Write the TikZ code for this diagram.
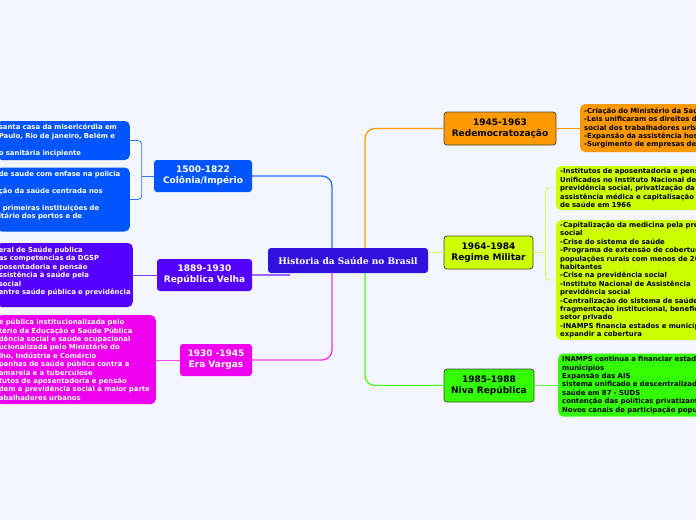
\documentclass[tikz,border=0pt]{standalone}
\usepackage{fontspec}
\usepackage{tikz}
\usetikzlibrary{positioning,calc}
\newfontfamily\mapfont{DejaVu Sans}
\newfontfamily\rootfont{DejaVu Serif}
\definecolor{MapBack}{RGB}{243,246,254}
\definecolor{RootBlue}{RGB}{51,17,221}
\definecolor{ColBlue}{RGB}{0,85,255}
\definecolor{VelPurple}{RGB}{85,0,255}
\definecolor{VarMagenta}{RGB}{238,0,238}
\definecolor{RedOrange}{RGB}{255,153,0}
\definecolor{MilYellow}{RGB}{204,255,0}
\definecolor{NovGreen}{RGB}{51,255,0}
\definecolor{EdgeGrey}{RGB}{70,70,70}

\begin{document}
\begin{tikzpicture}[x=1pt,y=-1pt,
root/.style={rectangle,rounded corners=3pt,fill=RootBlue,text=white,font=\rootfont\bfseries\fontsize{9}{10}\selectfont,minimum width=160pt,minimum height=25pt,inner sep=1pt},
era/.style={rectangle,rounded corners=3pt,align=center,minimum height=32pt,inner sep=1pt,font=\mapfont\bfseries\fontsize{9}{11}\selectfont},
eraL/.style={era,text=white},
eraR/.style={era,draw=EdgeGrey,line width=0.8pt,text=black,minimum height=33pt},
leafL/.style={rectangle,rounded corners=5pt,anchor=east,align=left,inner xsep=2pt,inner ysep=1pt,text=white,font=\mapfont\bfseries\fontsize{6.9}{8.4}\selectfont},
leafR/.style={leafL,anchor=west,inner xsep=4pt,text=black,text width=220pt},
branch/.style={line width=1.3pt,rounded corners=10pt},
twig/.style={line width=0.8pt,rounded corners=4pt}
]
\useasboundingbox (0,0) rectangle (696,520);
\clip (0,0) rectangle (696,520);
\fill[MapBack] (0,0) rectangle (696,520);

% centre and eras
\node[root] (hist) at (348,260.5) {Historia da Saúde no Brasil};
\node[eraL,fill=ColBlue,minimum width=98pt] (colonia) at (203,176) {1500-1822\\Colônia/Império};
\node[eraL,fill=VelPurple,minimum width=95pt] (velha) at (204.5,275) {1889-1930\\República Velha};
\node[eraL,fill=VarMagenta,minimum width=72pt] (vargas) at (216,360) {1930 -1945\\Era Vargas};
\node[eraR,fill=RedOrange,minimum width=112pt] (redemo) at (500,128.5) {1945-1963\\Redemocratozação};
\node[eraR,fill=MilYellow,minimum width=89pt] (militar) at (488.5,252.5) {1964-1984\\Regime Militar};
\node[eraR,fill=NovGreen,minimum width=90pt] (nova) at (489,385.5) {1985-1988\\Niva República};

% left leaves
\node[leafL,fill=ColBlue,text width=129pt,minimum height=39pt] (santa) at (130,140.5) {santa casa da misericórdia em\\Paulo, Rio de janeiro, Belém e\\\mbox{}\\o sanitária incipiente};
\node[leafL,fill=ColBlue,text width=129pt,minimum height=64pt] (policia) at (130,199.5) {de saude com enfase na policia\\\mbox{}\\ção da saúde centrada nos\\\mbox{}\\\hspace*{4pt}primeiras instituições de\\itário dos portos e de\\\mbox{}};
\node[leafL,fill=VelPurple,text width=132pt,minimum height=64pt] (dgsp) at (133,275) {eral de Saúde publica\\as competencias da DGSP\\posentadoria e pensão\\ssistência à saúde pela\\social\\entre saúde pública e previdência\\\mbox{}};
\node[leafL,fill=VarMagenta,text width=155pt,minimum height=89pt] (sanitaria) at (156,359.7) {e pública institucionalizada pelo\\tério da Educação e Saúde Pública\\dência social e saúde ocupacional\\ucionalizada pelo Ministério do\\lho, Indústria e Comércio\\panhas de saúde pública contra a\\amarela e a tuberculose\\tutos de aposentadoria e pensão\\dem a previdência social a maior parte\\abalhadores urbanos};

% right leaves
\node[leafR,fill=RedOrange,minimum height=48pt] (ministerio) at (580,128) {-Criação do Ministério da Saúde\\-Leis unificaram os direitos de\\social dos trabalhadores urbanos\\-Expansão da assistência hospitalar\\-Surgimento de empresas de};
\node[leafR,fill=MilYellow,minimum height=44pt] (institutos) at (556,188) {-Institutos de aposentadoria e pensão\\Unificados no Instituto Nacional de\\previdência social, privatização da\\assistência médica e capitalisação da\\de saúde em 1966};
\node[leafR,fill=MilYellow,minimum height=120pt] (capital) at (556,280) {-Capitalização da medicina pela previdência\\social\\-Crise do sistema de saúde\\-Programa de extensão de cobertura\\populações rurais com menos de 20\\habitantes\\-Crise na previdência social\\-Instituto Nacional de Assistência\\previdência social\\-Centralização do sistema de saúde\\fragmentação institucional, beneficiando\\setor privado\\-INAMPS financia estados e municípios\\expandir a cobertura};
\node[leafR,fill=NovGreen,minimum height=63pt] (inamps) at (558,385) {INAMPS continua a financiar estados e\\municípios\\Expansão das AIS\\sistema unificado e descentralizado de\\saúde em 87 - SUDS\\contenção das políticas privatizantes\\Novos canais de participação popular};

% branches from the centre
\draw[branch,ColBlue!85] ([xshift=-16pt]hist.north) |- (colonia.east);
\draw[branch,RedOrange] ([xshift=17pt]hist.north) |- (redemo.west);
\draw[branch,VelPurple!60] (velha.east) -- ($(velha.east -| hist.west)+(22,0)$);
\draw[branch,VarMagenta!80] ([xshift=-16pt]hist.south) |- (vargas.east);
\draw[branch,MilYellow!60] (militar.west -| hist.east) -- (militar.west);
\draw[branch,NovGreen!90] ([xshift=17pt]hist.south) |- (nova.west);

% twigs to the leaves
\draw[twig,ColBlue!80] (colonia.west) -- ++(-12pt,0);
\draw[twig,ColBlue!80] (santa.east) -| ([xshift=-12pt]colonia.west) |- (policia.east);
\draw[twig,VelPurple!80] (velha.west) -- (velha.west -| dgsp.east);
\draw[twig,VarMagenta!70] (vargas.west) -- (vargas.west -| sanitaria.east);
\draw[twig,RedOrange] (redemo.east) -- (redemo.east -| ministerio.west);
\draw[twig,MilYellow!70] (militar.east) -- ++(12pt,0);
\draw[twig,MilYellow!70] (institutos.west) -| ([xshift=12pt]militar.east) |- (capital.west);
\draw[twig,NovGreen!80] (nova.east) -- (nova.east -| inamps.west);
\end{tikzpicture}
\end{document}
